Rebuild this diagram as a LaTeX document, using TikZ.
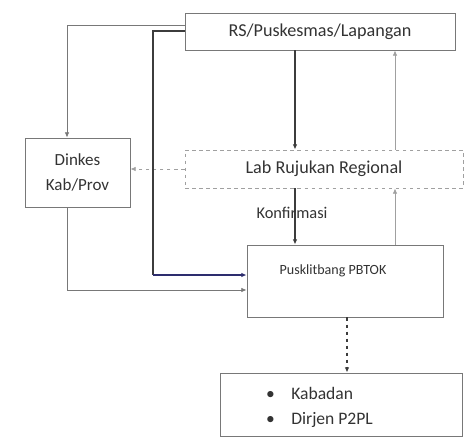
\documentclass[tikz,border=0pt]{standalone}
\usepackage{fontspec}
\setmainfont{Carlito}
\usetikzlibrary{arrows.meta}
\definecolor{darkline}{RGB}{60,60,60}
\definecolor{lightline}{RGB}{160,160,160}
\definecolor{boxline}{RGB}{120,120,120}
\definecolor{navyline}{RGB}{45,45,110}
\tikzset{
  box/.style={draw=boxline, line width=0.8pt, inner sep=0pt, text=black!80, font=\fontsize{15.5}{20}\selectfont},
  dashbox/.style={box, draw=lightline, dashed},
  darkarrow/.style={draw=darkline, line width=0.9pt, -{Latex[length=4.5pt,width=4pt]}},
  lightarrow/.style={draw=lightline, line width=0.7pt, -{Latex[length=4.5pt,width=4pt]}},
}
\begin{document}
\begin{tikzpicture}[x=0.03cm, y=-0.03cm]
\useasboundingbox (0,0) rectangle (465,441);

\node[box, minimum width=270*0.03cm, minimum height=37*0.03cm] (rs) at (320,31.5) {RS/Puskesmas/Lapangan};
\node[dashbox, minimum width=278*0.03cm, minimum height=38*0.03cm] (lab) at (324,169) {Lab Rujukan Regional};
\node[box, minimum width=105*0.03cm, minimum height=69*0.03cm, align=center, font=\fontsize{14.5}{21}\selectfont] (dinkes) at (77.5,172.5) {Dinkes\\Kab/Prov};
\node[box, minimum width=196*0.03cm, minimum height=72*0.03cm] (pusk) at (345,281) {};
\node[text=black!80, font=\fontsize{12}{14}\selectfont] (pusklabel) at (333,271) {Pusklitbang PBTOK};
\node[box, minimum width=242*0.03cm, minimum height=63*0.03cm] (lapor) at (341,404.5) {};
\node[anchor=west, text=black!80, font=\fontsize{15}{17}\selectfont] (kabadan) at (262,393) {\textbullet\hspace{14pt}Kabadan};
\node[anchor=west, text=black!80, font=\fontsize{15}{17}\selectfont] (dirjen) at (262,420) {\textbullet\hspace{14pt}Dirjen P2PL};

\coordinate (down) at (295,0);
\coordinate (up) at (395,0);
\coordinate (left) at (67,25);
\coordinate (turn) at (153,31);
\coordinate (corner) at (153,275);
\coordinate (low) at (0,290);
\coordinate (report) at (347,0);

\path[darkarrow] (rs.south -| down) -- (lab.north -| down);
\path[darkarrow] (lab.south -| down) -- (pusk.north -| down);
\node[text=black!80, font=\fontsize{14}{16}\selectfont] (konfirmasi) at (292,213) {Konfirmasi};
\path[lightarrow] (pusk.north -| up) -- (lab.south -| up);
\path[lightarrow] (lab.north -| up) -- (rs.south -| up);
\path[lightarrow, dashed] (lab.west) -- (lab.west -| dinkes.east);
\path[lightarrow, draw=boxline] (rs.west |- left) -| (dinkes.north -| left);
\path[draw=darkline, line width=0.9pt] (rs.west |- turn) -| (corner);
\path[darkarrow, draw=navyline] (corner) -- (pusk.west |- corner);
\path[lightarrow, draw=boxline] (dinkes.south -| left) |- (pusk.west |- low);
\path[darkarrow, dashed] (pusk.south -| report) -- (lapor.north -| report);
\end{tikzpicture}
\end{document}
